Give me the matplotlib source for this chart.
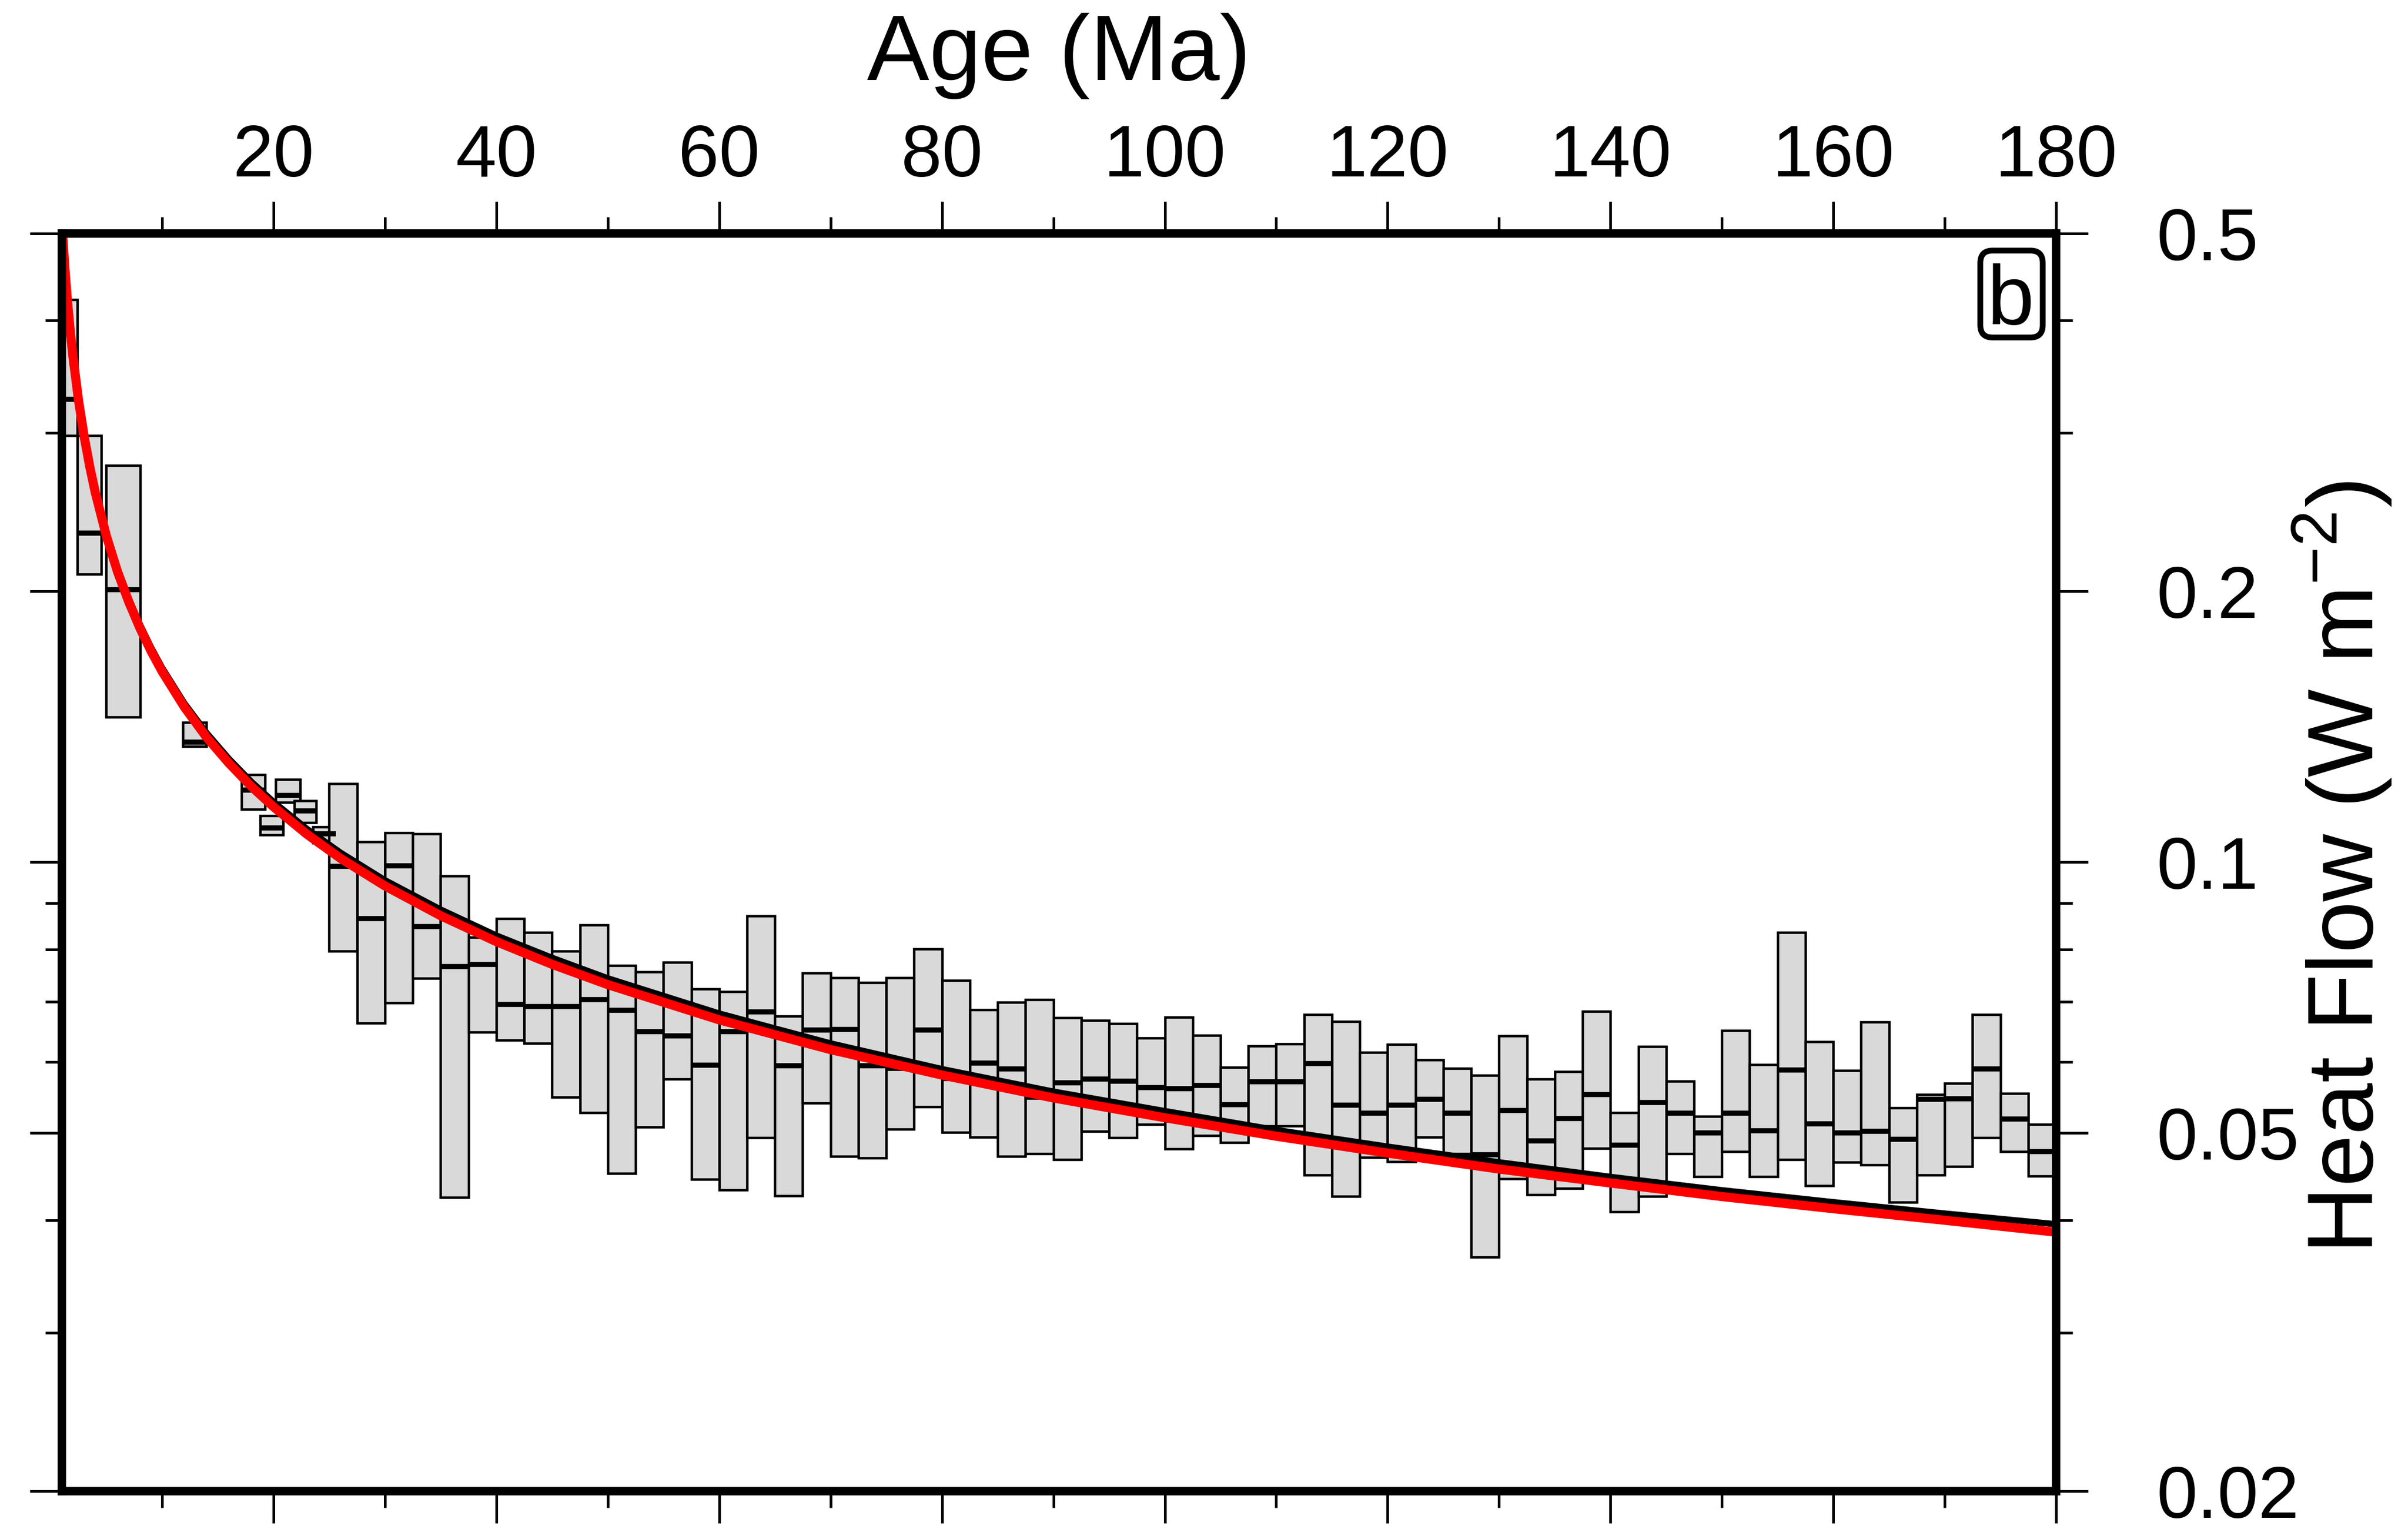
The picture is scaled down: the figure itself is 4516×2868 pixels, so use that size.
import matplotlib
matplotlib.use("Agg")
import matplotlib.pyplot as plt
from matplotlib.ticker import FixedLocator, NullFormatter, FuncFormatter, MultipleLocator
from matplotlib.patches import FancyBboxPatch

plt.rcParams["font.family"] = ["Liberation Sans", "DejaVu Sans"]
plt.rcParams["mathtext.fontset"] = "custom"
plt.rcParams["mathtext.rm"] = "Liberation Sans"

# Boîtes par classe d'âge (Ma) : bornes d'âge, quartiles bas / médiane / haut (W m-2)
AGE_LO = [0.0, 2.4, 4.95, 11.85, 17.15, 18.8, 20.2, 21.85, 23.55,
          25.0, 27.5, 30.0, 32.5, 35.0, 37.5, 40.0, 42.5, 45.0, 47.5,
          50.0, 52.5, 55.0, 57.5, 60.0, 62.5, 65.0, 67.5, 70.0, 72.5,
          75.0, 77.5, 80.0, 82.5, 85.0, 87.5, 90.0, 92.5, 95.0, 97.5,
          100.0, 102.5, 105.0, 107.5, 110.0, 112.5, 115.0, 117.5, 120.0, 122.5,
          125.0, 127.5, 130.0, 132.5, 135.0, 137.5, 140.0, 142.5, 145.0, 147.5,
          150.0, 152.5, 155.0, 157.5, 160.0, 162.5, 165.0, 167.5, 170.0, 172.5,
          175.0, 177.5]
AGE_HI = [2.4, 4.55, 8.05, 13.95, 19.25, 20.85, 22.4, 23.85, 25.6,
          27.5, 30.0, 32.5, 35.0, 37.5, 40.0, 42.5, 45.0, 47.5, 50.0,
          52.5, 55.0, 57.5, 60.0, 62.5, 65.0, 67.5, 70.0, 72.5, 75.0,
          77.5, 80.0, 82.5, 85.0, 87.5, 90.0, 92.5, 95.0, 97.5, 100.0,
          102.5, 105.0, 107.5, 110.0, 112.5, 115.0, 117.5, 120.0, 122.5, 125.0,
          127.5, 130.0, 132.5, 135.0, 137.5, 140.0, 142.5, 145.0, 147.5, 150.0,
          152.5, 155.0, 157.5, 160.0, 162.5, 165.0, 167.5, 170.0, 172.5, 175.0,
          177.5, 180.0]
Q_LOW = [0.298, 0.209, 0.145, 0.1345, 0.1145, 0.1072, 0.1165, 0.1107, 0.1050,
         0.0796, 0.0663, 0.0698, 0.0743, 0.0424, 0.0647, 0.0634, 0.0629, 0.0548, 0.0527,
         0.0451, 0.0508, 0.0574, 0.0444, 0.0432, 0.0494, 0.0426, 0.0540, 0.0471, 0.0469,
         0.0505, 0.0535, 0.0501, 0.0495, 0.0471, 0.0474, 0.0467, 0.0502, 0.0494, 0.0511,
         0.0480, 0.0497, 0.0488, 0.0509, 0.0509, 0.0449, 0.0425, 0.0470, 0.0465, 0.0495,
         0.0474, 0.0364, 0.0445, 0.0427, 0.0434, 0.0481, 0.0409, 0.0425, 0.0474, 0.0447,
         0.0477, 0.0447, 0.0467, 0.0437, 0.0464, 0.0461, 0.0419, 0.0449, 0.0459, 0.0494,
         0.0477, 0.0448]
Q_MED = [0.327, 0.232, 0.201, 0.136, 0.1203, 0.1091, 0.1187, 0.1141, 0.1075,
         0.0989, 0.0866, 0.0991, 0.0848, 0.0766, 0.0770, 0.0695, 0.0691, 0.0691, 0.0704,
         0.0685, 0.0648, 0.0641, 0.0595, 0.0648, 0.0682, 0.0594, 0.0651, 0.0652, 0.0594,
         0.0590, 0.0651, 0.0575, 0.0598, 0.0589, 0.0548, 0.0569, 0.0574, 0.0571, 0.0562,
         0.0560, 0.0565, 0.0538, 0.0570, 0.0570, 0.0597, 0.0537, 0.0526, 0.0537, 0.0545,
         0.0526, 0.0473, 0.0530, 0.0490, 0.0519, 0.0552, 0.0485, 0.0541, 0.0526, 0.0500,
         0.0526, 0.0503, 0.0588, 0.0512, 0.0500, 0.0502, 0.0492, 0.0545, 0.0546, 0.0589,
         0.0518, 0.0477]
Q_HIGH = [0.422, 0.298, 0.276, 0.143, 0.1251, 0.1127, 0.1236, 0.1170, 0.1094,
          0.1223, 0.1054, 0.1079, 0.1075, 0.0966, 0.0825, 0.0866, 0.0836, 0.0796, 0.0852,
          0.0768, 0.0755, 0.0774, 0.0723, 0.0718, 0.0871, 0.0674, 0.0753, 0.0744, 0.0735,
          0.0744, 0.0801, 0.0739, 0.0686, 0.0699, 0.0704, 0.0672, 0.0667, 0.0662, 0.0638,
          0.0673, 0.0642, 0.0592, 0.0625, 0.0628, 0.0677, 0.0665, 0.0615, 0.0627, 0.0603,
          0.0590, 0.0580, 0.0641, 0.0574, 0.0585, 0.0683, 0.0527, 0.0624, 0.0571, 0.0522,
          0.0650, 0.0596, 0.0836, 0.0632, 0.0587, 0.0664, 0.0533, 0.0552, 0.0568, 0.0677,
          0.0553, 0.0511]

# Courbes de modèle
CURVE_AGE = [1, 1.25, 1.5, 1.75, 2, 2.5, 3, 3.5, 4, 5, 6, 7, 8, 9, 10, 12, 14, 16, 18, 20,
             23, 26, 30, 35, 40, 45, 50, 60, 70, 80, 90, 100, 110, 120, 130, 140, 150,
             160, 170, 180]
Q_RED = [0.515, 0.4606, 0.4205, 0.3893, 0.3642, 0.3257, 0.2973, 0.2753, 0.2575, 0.2303,
         0.2102, 0.1947, 0.1821, 0.1717, 0.1629, 0.1487, 0.1376, 0.1288, 0.1214, 0.1152,
         0.1074, 0.1010, 0.0941, 0.0872, 0.0816, 0.0770, 0.0731, 0.0668, 0.0619, 0.0580,
         0.0547, 0.0520, 0.0496, 0.0475, 0.0456, 0.0440, 0.0425, 0.0412, 0.0400, 0.0388]
Q_BLACK = [0.520, 0.465, 0.4247, 0.3932, 0.3678, 0.3290, 0.3003, 0.2781, 0.2601, 0.2326,
           0.2123, 0.1966, 0.1839, 0.1734, 0.1645, 0.1502, 0.1392, 0.1303, 0.1229, 0.1167,
           0.1089, 0.1025, 0.0955, 0.0886, 0.0829, 0.0783, 0.0743, 0.0679, 0.0629, 0.0589,
           0.0556, 0.0529, 0.0504, 0.0483, 0.0464, 0.0447, 0.0432, 0.0419, 0.0407, 0.0396]

Y_MAJOR = [0.02, 0.05, 0.1, 0.2, 0.5]
Y_MINOR = [0.03, 0.04, 0.06, 0.07, 0.08, 0.09, 0.3, 0.4]

W, H, DPI = 4516, 2868, 300
fig = plt.figure(figsize=(W / DPI, H / DPI), dpi=DPI)
ax = fig.add_axes([0.02569, 0.02476, 0.82817, 0.82269])

# boîtes
widths = [h - l for l, h in zip(AGE_LO, AGE_HI)]
heights = [t - b for b, t in zip(Q_LOW, Q_HIGH)]
ax.bar(AGE_LO, heights, width=widths, bottom=Q_LOW, align="edge",
       color="#d9d9d9", edgecolor="black", linewidth=1.1, zorder=2)
ax.hlines(Q_MED, AGE_LO, AGE_HI, colors="black", linewidth=2.3, zorder=3)

# courbes
ax.plot(CURVE_AGE, Q_BLACK, color="black", linewidth=2.8, zorder=4,
        solid_capstyle="butt")
ax.plot(CURVE_AGE, Q_RED, color="#ff0000", linewidth=4.1, zorder=5,
        solid_capstyle="butt")

ax.set_xlim(1, 180)
ax.set_yscale("log")
ax.set_ylim(0.02, 0.5)

ax.xaxis.set_major_locator(MultipleLocator(20))
ax.xaxis.set_minor_locator(MultipleLocator(10))
ax.yaxis.set_major_locator(FixedLocator(Y_MAJOR))
ax.yaxis.set_minor_locator(FixedLocator(Y_MINOR))
ax.yaxis.set_major_formatter(FuncFormatter(lambda v, p: f"{v:g}"))
ax.yaxis.set_minor_formatter(NullFormatter())

for s in ax.spines.values():
    s.set_linewidth(3.8)
    s.set_zorder(6)

ax.tick_params(which="both", direction="out", width=1.2, colors="black",
               top=True, bottom=True, left=True, right=True,
               labeltop=True, labelbottom=False, labelleft=False, labelright=True,
               labelsize=33)
ax.tick_params(which="major", length=14.3)
ax.tick_params(which="minor", length=7.5)
ax.tick_params(axis="x", which="major", pad=4.4)
ax.tick_params(axis="y", which="major", pad=31)

fig.text(0.4398, 0.9477, "Age (Ma)", ha="center", va="baseline", fontsize=42)
fig.text(0.98539, 0.4327, r"Heat Flow (W m$^{\mathregular{-2}}$)", rotation=90,
         rotation_mode="anchor", ha="center", va="baseline", fontsize=42)

# étiquette du panneau
box = FancyBboxPatch((0.9620, 0.91714), 0.0313, 0.06909,
                     boxstyle="round,pad=0,rounding_size=0.00615",
                     mutation_aspect=1.585, transform=ax.transAxes,
                     facecolor="white", edgecolor="black", linewidth=2.6, zorder=7)
ax.add_patch(box)
ax.text(0.97727, 0.92774, "b", transform=ax.transAxes, ha="center", va="baseline",
        fontsize=38, zorder=8)

fig.savefig("out.png", dpi=DPI)
